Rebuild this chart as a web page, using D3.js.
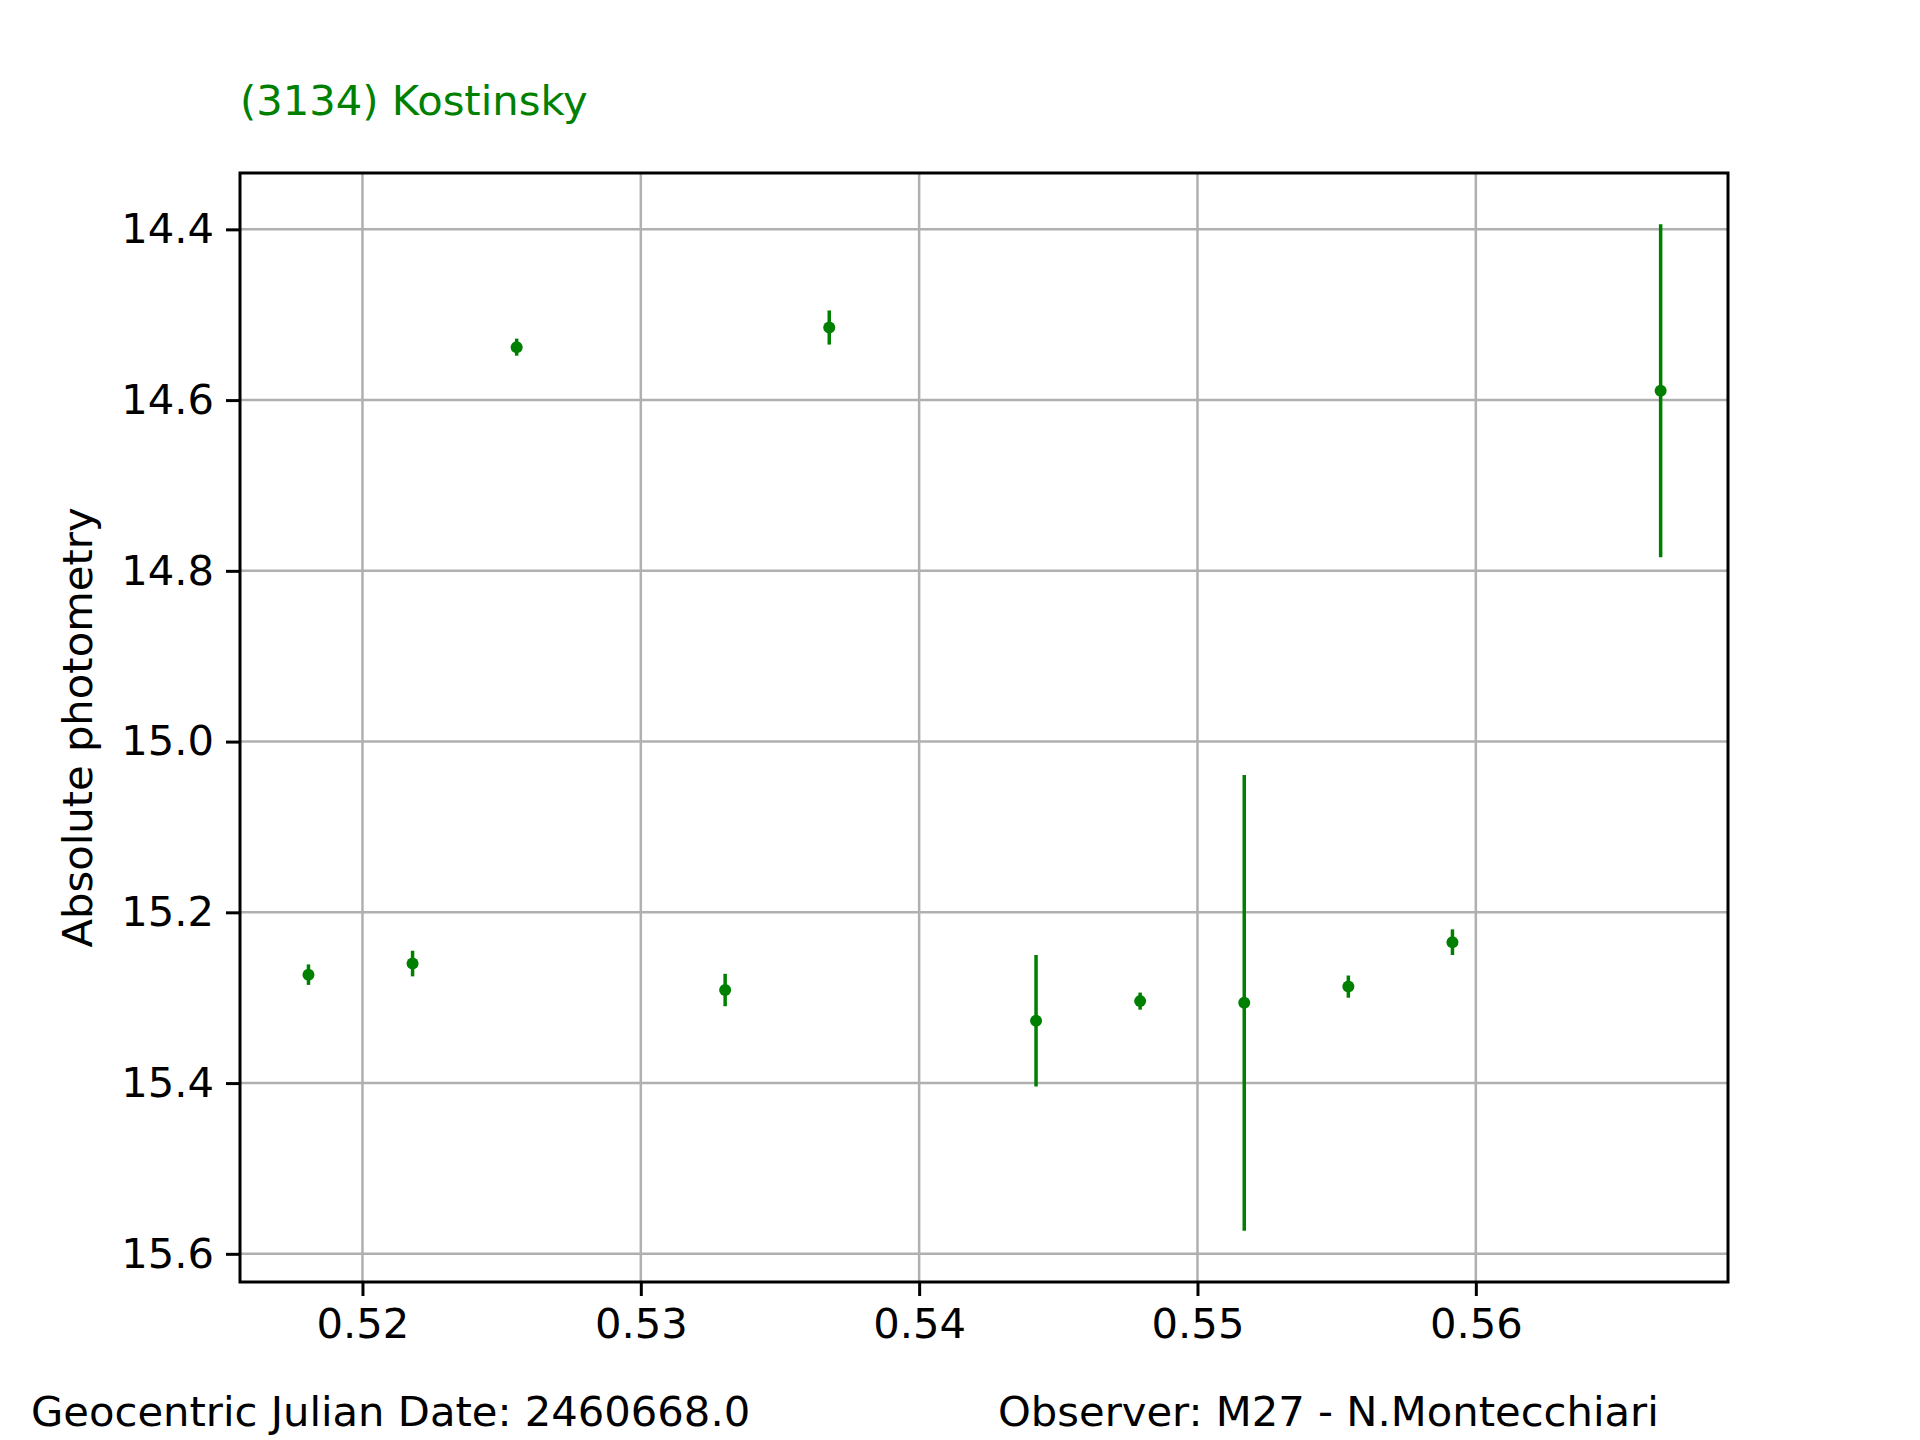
<!DOCTYPE html>
<html><head><meta charset="utf-8">
<script src="https://cdn.jsdelivr.net/npm/d3@7"></script>
<style>body{margin:0;background:#fff}svg{display:block}</style>
</head><body>
<script>
const xValues=[0.51806,0.5218,0.52554,0.53303,0.53677,0.5442,0.54794,0.55168,0.55542,0.55916,0.56664];
const yValues=[15.273,15.260,14.538,15.291,14.515,15.327,15.304,15.306,15.287,15.235,14.589];
const yErrors=[0.012,0.015,0.01,0.019,0.02,0.077,0.01,0.267,0.013,0.015,0.195];
const xTicks=[0.52,0.53,0.54,0.55,0.56];
const yTicks=[14.4,14.6,14.8,15.0,15.2,15.4,15.6];
const title="(3134) Kostinsky", yLabel="Absolute photometry";
const footLeft="Geocentric Julian Date: 2460668.0", footRight="Observer: M27 - N.Montecchiari";

const W=1920,H=1440,L=240,R=1728,T=173,B=1282,green="#008000",font="DejaVu Sans",fs=41.7;
const svg=d3.select("body").append("svg").attr("width",W).attr("height",H).style("font-family",font);
const x=d3.scaleLinear().domain([0.5156,0.56906]).range([L,R]);
const y=d3.scaleLinear().domain([14.334,15.633]).range([T,B]);
const g=svg.append("g");
g.selectAll(".gx").data(xTicks).join("line").attr("x1",d=>x(d)).attr("x2",d=>x(d)).attr("y1",T).attr("y2",B).attr("stroke","#b0b0b0").attr("stroke-width",2.5);
g.selectAll(".gy").data(yTicks).join("line").attr("y1",d=>y(d)).attr("y2",d=>y(d)).attr("x1",L).attr("x2",R).attr("stroke","#b0b0b0").attr("stroke-width",2.5);
const xa=svg.append("g").attr("transform",`translate(0,${B})`).call(d3.axisBottom(x).tickValues(xTicks).tickFormat(d3.format(".2f")).tickSize(14).tickPadding(12));
const ya=svg.append("g").attr("transform",`translate(${L},0)`).call(d3.axisLeft(y).tickValues(yTicks).tickFormat(d3.format(".1f")).tickSize(14).tickPadding(12));
[xa,ya].forEach(a=>{a.select(".domain").remove();a.selectAll("line").attr("stroke-width",3);a.selectAll("text").attr("font-size",fs).attr("font-family",font).attr("fill","#000");});
svg.append("rect").attr("x",L).attr("y",T).attr("width",R-L).attr("height",B-T).attr("fill","none").attr("stroke","#000").attr("stroke-width",3);
const pts=xValues.map((v,i)=>({x:v,y:yValues[i],e:yErrors[i]}));
svg.selectAll(".eb").data(pts).join("line").attr("x1",d=>x(d.x)).attr("x2",d=>x(d.x)).attr("y1",d=>y(d.y-d.e)).attr("y2",d=>y(d.y+d.e)).attr("stroke",green).attr("stroke-width",3.5);
svg.selectAll(".pt").data(pts).join("circle").attr("cx",d=>x(d.x)).attr("cy",d=>y(d.y)).attr("r",6).attr("fill",green);
svg.append("text").attr("x",L).attr("y",115).attr("font-size",fs).attr("fill",green).text(title);
svg.append("text").attr("transform",`translate(92,${(T+B)/2}) rotate(-90)`).attr("text-anchor","middle").attr("font-size",fs).text(yLabel);
svg.append("text").attr("x",31).attr("y",1426).attr("font-size",fs).text(footLeft);
svg.append("text").attr("x",998).attr("y",1426).attr("font-size",fs).text(footRight);
</script></body></html>
